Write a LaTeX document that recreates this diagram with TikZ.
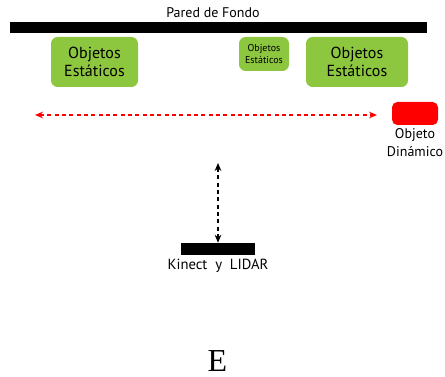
\documentclass[tikz,border=0pt]{standalone}
\usepackage{fontspec}
\setmainfont{Liberation Serif}
\newfontfamily\rotulo{PT Sans}
\usetikzlibrary{arrows.meta,positioning}
\definecolor{verde}{HTML}{8DC63F}
\definecolor{rojo}{HTML}{FF0000}

\begin{document}
\begin{tikzpicture}[x=0.75pt,y=-0.75pt]
	\tikzset{estatico/.style={fill=verde,rounded corners=5pt,align=center,inner sep=0pt,font=\rotulo\fontsize{12}{13.5}\selectfont},
		barra/.style={fill=black,inner sep=0pt},
		texto/.style={align=center,inner sep=1pt,font=\rotulo\fontsize{10.5}{13.5}\selectfont},
		flecha/.style={dash pattern=on 3pt off 2.5pt,line width=0.9pt,{Stealth[length=6pt,width=5pt]}-{Stealth[length=6pt,width=5pt]}}}
	\useasboundingbox (0,0) rectangle (445,377);
	% pared y objetos
	\node [barra, minimum width=312.75pt, minimum height=8.25pt] (pared) at (218.5,27.5) {};
	\node [texto] (titulo) at (213,13) {Pared de Fondo};
	\node [estatico, minimum width=65.25pt, minimum height=37.5pt] (est1) at (94.5,62) {Objetos\\Estáticos};
	\node [estatico, minimum width=37.5pt, minimum height=25.5pt, font=\rotulo\fontsize{7.5}{9.5}\selectfont] (est2) at (264,54) {Objetos\\Estáticos};
	\node [estatico, minimum width=76.5pt, minimum height=37.5pt] (est3) at (357,62) {Objetos\\Estáticos};
	% objeto dinamico
	\node [fill=rojo, rounded corners=4pt, inner sep=0pt, minimum width=34.5pt, minimum height=17.25pt] (dinamico) at (415,113.5) {};
	\node [texto, below=1pt of dinamico] (nomdin) {Objeto\\Dinámico};
	\coordinate (izq) at (35,115);
	\coordinate (der) at (377,115);
	\draw [flecha, color=rojo] (izq) -- (der);
	% sensor
	\node [barra, minimum width=55.5pt, minimum height=9pt] (sensor) at (218,249) {};
	\node [texto, below=2pt of sensor, font=\rotulo\fontsize{11}{13}\selectfont] (nomsen) {Kinect\ \ y\ \ LIDAR};
	\coordinate (arriba) at (218,163);
	\draw [flecha, color=black] (arriba) -- (sensor.north);
	\node [font=\fontsize{24}{26}\selectfont, inner sep=0pt] (letra) at (217.5,361) {E};
\end{tikzpicture}
\end{document}
